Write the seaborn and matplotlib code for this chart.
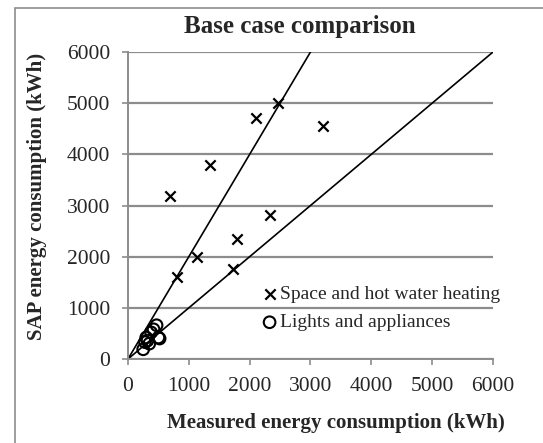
import numpy as np
import pandas as pd
import seaborn as sns
import matplotlib.pyplot as plt
from matplotlib.patches import Rectangle

# measured vs SAP energy (kWh)
heat_measured = [690, 1340, 2110, 2460, 3200, 2330, 1790, 1140, 810, 1720]
heat_sap = [3180, 3800, 4710, 5000, 4560, 2820, 2350, 1990, 1600, 1760]
lights_measured = [250, 280, 300, 320, 350, 380, 420, 470, 500, 520]
lights_sap = [190, 330, 420, 360, 300, 520, 580, 660, 420, 400]
ratios = [1, 2]  # reference lines y = x and y = 2x
ticks = [0, 1000, 2000, 3000, 4000, 5000, 6000]

sns.set_style('white')
plt.rcParams['font.family'] = ['Liberation Serif', 'DejaVu Serif']

heat = pd.DataFrame({'measured': heat_measured, 'sap': heat_sap})
lights = pd.DataFrame({'measured': lights_measured, 'sap': lights_sap})

fig = plt.figure(figsize=(5.43, 4.43), dpi=100)
ax = fig.add_axes([0.2357, 0.1896, 0.6722, 0.693])

# outer frame (cropped at right/bottom like the source)
fig.patches.append(Rectangle((0.028, -0.1), 1.2, 1.083, transform=fig.transFigure,
                             fill=False, edgecolor='#8c8c8c', linewidth=1.2))

ax.yaxis.grid(True, color='#8c8c8c', linewidth=1.6)
ax.set_axisbelow(True)

line_x = np.array([0, 6000])
for r in ratios:
    sns.lineplot(x=line_x, y=line_x * r, color='black', linewidth=1.2, ax=ax)

sns.scatterplot(data=heat, x='measured', y='sap', marker='x', s=55, color='black',
                linewidth=1.6, label='Space and hot water heating', ax=ax, zorder=3)
sns.scatterplot(data=lights, x='measured', y='sap', marker='o', s=70, facecolor='none',
                edgecolor='black', linewidth=1.5, label='Lights and appliances', ax=ax, zorder=3)

ax.set_xlim(0, 6000)
ax.set_ylim(0, 6000)
ax.set_xticks(ticks)
ax.set_yticks(ticks)
ax.tick_params(axis='both', labelsize=15.5, length=4, width=1.2, color='#8c8c8c',
               direction='out', bottom=True, left=True)
ax.tick_params(axis='x', pad=9)
ax.tick_params(axis='y', pad=9)
for side in ['top', 'right']:
    ax.spines[side].set_visible(False)
for side in ['left', 'bottom']:
    ax.spines[side].set_color('#8c8c8c')
    ax.spines[side].set_linewidth(1.4)

fig.text(300 / 543, 1 - 27 / 443, 'Base case comparison', fontsize=18, fontweight='bold',
         ha='center', va='center')
ax.set_xlabel('Measured energy consumption (kWh)', fontsize=15, fontweight='bold')
ax.xaxis.set_label_coords(0.57, -0.175)
ax.set_ylabel('SAP energy consumption (kWh)', fontsize=15, fontweight='bold')
ax.yaxis.set_label_coords(-0.222, 0.528)

leg = ax.legend(loc='upper left', bbox_to_anchor=(0.34, 0.265), frameon=False, fontsize=14,
                handletextpad=0.05, labelspacing=0.55, borderaxespad=0, handlelength=1.0)

fig.savefig('out.png', dpi=100)
